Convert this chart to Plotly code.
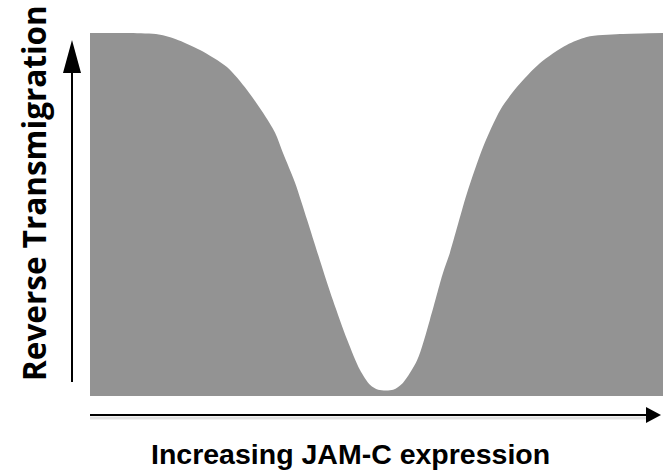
import plotly.graph_objects as go

# Schematic curve: JAM-C expression (0-100) vs reverse transmigration (0-100)
jamc_expression = [0, 7.0, 12.0, 15.0, 19.2, 23.9, 27.4, 30.2, 32.3, 33.7, 35.8, 37.9,
                   40.1, 42.4, 44.9, 47.1, 48.9, 50.3, 52.9, 54.6, 57.1, 59.3, 61.6,
                   62.8, 65.8, 68.6, 71.6, 74.5, 78.5, 83.2, 86.7, 92.5, 100]
reverse_tm = [100, 100, 99.6, 98.3, 95.3, 90.6, 84.3, 78.0, 72.5, 66.9, 58.7, 48.5,
              37.5, 26.4, 15.4, 7.2, 3.0, 1.7, 1.7, 3.6, 9.9, 20.9, 33.9,
              39.4, 55.9, 68.6, 78.8, 85.1, 91.7, 96.7, 98.9, 99.7, 100]

y_label = "Reverse Transmigration"
x_label = "Increasing JAM-C expression"

fig = go.Figure()
fig.add_trace(go.Scatter(
    x=jamc_expression, y=reverse_tm, mode="lines",
    line=dict(color="#939393", width=0, shape="spline", smoothing=0.8),
    fill="tozeroy", fillcolor="#939393", hoverinfo="skip", showlegend=False,
))

W, H = 663, 472
ml, mr, mt, mb = 90, 0, 33, 76
pw, ph = W - ml - mr, H - mt - mb

def px(x):
    return (x - ml) / pw

def py(y):
    return (H - mb - y) / ph

shapes = []
# vertical arrow
shapes.append(dict(type="line", xref="paper", yref="paper",
                   x0=px(72), x1=px(72), y0=py(382), y1=py(70),
                   line=dict(color="black", width=2)))
shapes.append(dict(type="path", xref="paper", yref="paper",
                   path=f"M {px(63)} {py(73)} L {px(81)} {py(73)} L {px(72)} {py(40)} Z",
                   fillcolor="black", line=dict(color="black", width=0)))
# horizontal arrow shadow
shapes.append(dict(type="line", xref="paper", yref="paper",
                   x0=px(90), x1=px(648), y0=py(418), y1=py(418),
                   line=dict(color="rgba(0,0,0,0.12)", width=3)))
# horizontal arrow
shapes.append(dict(type="line", xref="paper", yref="paper",
                   x0=px(90), x1=px(648), y0=py(415), y1=py(415),
                   line=dict(color="black", width=2)))
shapes.append(dict(type="path", xref="paper", yref="paper",
                   path=f"M {px(646)} {py(407)} L {px(646)} {py(423)} L {px(661)} {py(415)} Z",
                   fillcolor="black", line=dict(color="black", width=0)))

annotations = [
    dict(text=f"<b>{y_label}</b>", xref="paper", yref="paper",
         x=px(33), y=py(193), xanchor="center", yanchor="middle",
         textangle=-90, showarrow=False,
         font=dict(family="Open Sans", size=31.5, color="black")),
    dict(text=f"<b>{x_label}</b>", xref="paper", yref="paper",
         x=px(350), y=py(454), xanchor="center", yanchor="middle",
         showarrow=False,
         font=dict(family="Liberation Sans", size=28.5, color="black")),
]

fig.update_layout(
    width=W, height=H,
    margin=dict(l=ml, r=mr, t=mt, b=mb),
    plot_bgcolor="white", paper_bgcolor="white",
    xaxis=dict(range=[0, 100], visible=False, fixedrange=True),
    yaxis=dict(range=[0, 100], visible=False, fixedrange=True),
    shapes=shapes, annotations=annotations,
)

fig.write_html("out.html", config={"displayModeBar": False},
               post_script="document.body.style.margin='0';document.body.style.overflow='hidden';")
